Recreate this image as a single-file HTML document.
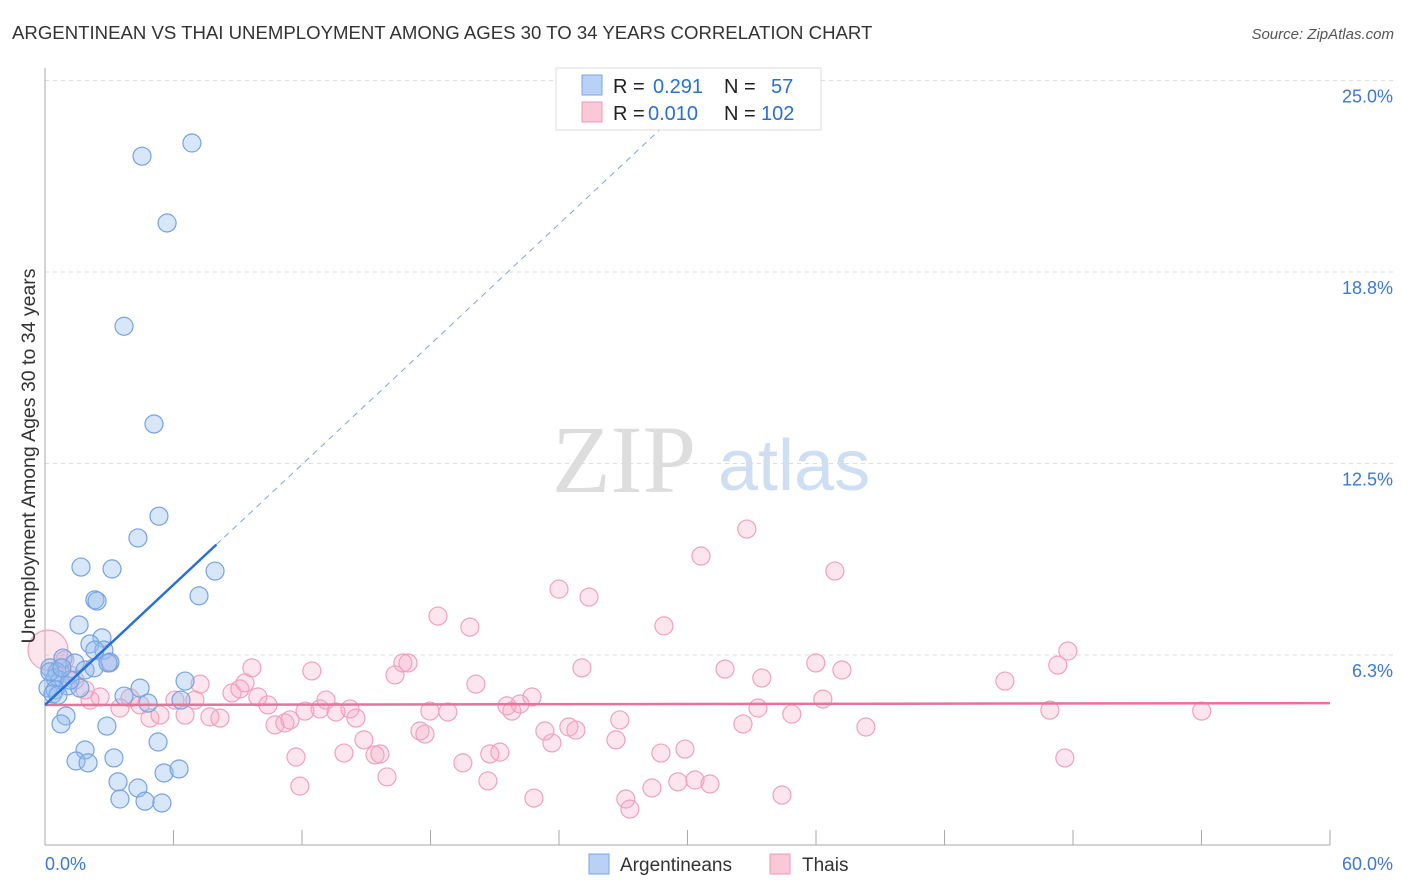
<!DOCTYPE html>
<html><head><meta charset="utf-8"><style>
body{margin:0;background:#fff;width:1406px;height:892px;overflow:hidden;font-family:"Liberation Sans",sans-serif}
svg{position:absolute;left:0;top:0}
</style></head><body>
<svg id="chart" width="1406" height="892" xmlns="http://www.w3.org/2000/svg">
<text x="12" y="39" font-size="18.6" fill="#333">ARGENTINEAN VS THAI UNEMPLOYMENT AMONG AGES 30 TO 34 YEARS CORRELATION CHART</text>
<text x="1394" y="39" font-size="15" fill="#555" font-style="italic" text-anchor="end">Source: ZipAtlas.com</text>
<g>
<text x="552" y="492" font-size="96" fill="#ddd" font-family="Liberation Serif,serif">ZIP</text>
<text x="718" y="490" font-size="72" fill="#cfdff3">atlas</text>
</g>
<g id="grid"></g><g id="axes"></g><g id="marks"></g>
<text x="35" y="456" font-size="19.5" fill="#333" text-anchor="middle" transform="rotate(-90 35 456)">Unemployment Among Ages 30 to 34 years</text>
<g>
<rect x="556" y="68" width="265" height="62" fill="#fff" stroke="#ddd"/>
<rect x="582" y="75" width="20" height="20" fill="#b8d1f5" stroke="#7aa6e6"/>
<rect x="582" y="102" width="20" height="20" fill="#fac8d6" stroke="#ec9ab5"/>
<text font-size="20" fill="#222"><tspan x="613" y="93">R = </tspan><tspan x="653" fill="#2a6fd6">0.291</tspan><tspan x="724">N = </tspan><tspan x="771" fill="#2a6fd6">57</tspan></text>
<text font-size="20" fill="#222"><tspan x="613" y="120">R = </tspan><tspan x="648" fill="#2a6fd6">0.010</tspan><tspan x="724">N = </tspan><tspan x="761" fill="#2a6fd6">102</tspan></text>
</g>
<g>
<rect x="589" y="854" width="20" height="20" fill="#b8d1f5" stroke="#7aa6e6"/>
<text x="620" y="871" font-size="19" fill="#333">Argentineans</text>
<rect x="770" y="854" width="20" height="20" fill="#fac8d6" stroke="#ec9ab5"/>
<text x="802" y="871" font-size="19" fill="#333">Thais</text>
</g>
</svg>
<script>
const yTicks=[6.25,12.5,18.75,25];
const yTickLabels=["6.3%","12.5%","18.8%","25.0%"];
const xTickCount=10;
const xLabels=["0.0%","60.0%"];
const argX=[4.53,6.86,5.70,3.69,5.09,5.32,4.34,1.68,3.13,2.33,2.43,7.19,7.94,1.59,2.66,2.10,2.75,0.84,1.40,3.03,0.23,0.56,0.70,1.07,0.47,0.14,0.47,1.87,2.29,4.44,3.69,6.35,6.54,4.81,0.98,0.75,2.89,5.28,1.87,1.45,2.01,3.22,3.41,4.34,5.56,6.26,3.50,4.67,5.46,0.37,0.61,1.63,1.17,0.23,2.94,2.33,0.79];
const argY=[22.53,22.96,20.35,16.98,13.79,10.78,10.07,9.12,9.06,8.05,8.01,8.18,8.99,7.23,6.81,6.61,6.41,6.15,5.99,6.02,5.83,5.70,5.43,5.24,5.50,5.17,5.11,5.76,5.83,5.17,4.91,4.78,5.40,4.68,4.26,4.00,3.93,3.41,3.15,2.79,2.73,2.89,2.11,1.91,2.40,2.53,1.55,1.48,1.42,4.98,4.94,5.17,5.43,5.70,5.99,6.41,5.83];
const thaiX=[0.14,0.70,1.17,1.87,2.57,3.03,3.97,4.44,4.90,5.37,6.07,6.54,7.00,7.24,7.70,8.17,8.73,9.10,9.34,9.66,9.94,10.41,10.74,11.20,11.44,11.72,11.90,12.14,12.46,12.84,13.12,13.59,13.96,14.24,14.52,14.89,15.41,15.64,15.97,16.34,16.71,16.95,17.51,17.74,17.97,18.35,18.81,19.51,19.84,20.12,20.68,20.77,21.24,21.57,21.80,22.18,22.74,22.83,23.34,23.67,24.00,24.46,24.79,25.07,25.40,26.66,26.84,27.12,27.31,28.34,28.76,28.90,29.55,29.88,30.35,30.63,31.05,31.75,32.59,32.77,33.29,33.47,34.41,34.87,35.99,36.32,36.88,37.21,38.33,44.82,46.92,47.29,47.62,47.76,54.01,2.10,1.40,0.93,3.50];
const thaiY=[6.41,5.83,5.60,5.11,4.88,5.99,4.85,4.62,4.19,4.29,4.78,4.29,4.78,5.30,4.23,4.19,5.01,5.14,5.34,5.83,4.88,4.62,3.97,4.03,4.13,2.92,1.97,4.42,5.73,4.49,4.78,4.39,3.05,4.49,4.19,3.48,2.99,3.02,2.27,5.60,5.99,5.99,3.77,3.67,4.42,7.52,4.39,2.73,7.16,5.30,2.14,3.02,3.08,4.59,4.42,4.65,4.88,1.58,3.77,3.38,8.40,3.90,3.80,5.83,8.14,3.48,4.13,1.55,1.22,1.91,3.05,7.20,2.11,3.18,2.17,9.48,2.04,5.79,4.00,10.36,4.52,5.50,1.68,4.32,5.99,4.81,8.99,5.76,3.90,5.40,4.45,5.92,2.89,6.38,4.42,4.78,5.43,6.09,4.52];
const argTrend=[4.62,0.654];
const thaiTrend=[4.62,0.001];
const X0=45,X1=1330,Y0=846.5,YPER=30.64;
const sx=v=>X0+(X1-X0)*v/60;
const sy=v=>Y0-v*YPER;
const NS="http://www.w3.org/2000/svg";
function mk(tag,parent,attrs){const e=document.createElementNS(NS,tag);for(const k in attrs)e.setAttribute(k,attrs[k]);document.getElementById(parent).appendChild(e);return e;}
yTicks.forEach((t,i)=>{
 const g=mk('line','grid',{x1:X0,x2:1395,y1:sy(t),y2:sy(t),stroke:'#ddd','stroke-dasharray':'4 4'});
 
 
 const l=mk('text','grid',{x:1393,y:sy(t)+22,'font-size':18,fill:'#3b78d8','text-anchor':'end'});
 l.textContent=yTickLabels[i];
 
 
});
const ya=mk('line','axes',{x1:X0,x2:X0,y1:68,y2:845,stroke:'#aaa'});


const xa=mk('line','axes',{x1:X0,x2:X1,y1:845,y2:845,stroke:'#aaa'});


for(let i=0;i<=xTickCount;i++){
 const t=mk('line','axes',{x1:sx(i*6),x2:sx(i*6),y1:830,y2:845,stroke:'#aaa'});
 
 
}
const xl0=mk('text','axes',{x:45,y:870,'font-size':18,fill:'#3b78d8'});xl0.textContent=xLabels[0];


const xl1=mk('text','axes',{x:1393,y:870,'font-size':18,fill:'#3b78d8','text-anchor':'end'});xl1.textContent=xLabels[1];


thaiX.forEach((x,i)=>{
 const c=mk('circle','marks',{cx:sx(x),cy:sy(thaiY[i]),r:i===0?20:9,fill:'rgba(246,170,195,0.3)',stroke:'#f0a2bb','stroke-width':1.2});
 
 
});
argX.forEach((x,i)=>{
 const c=mk('circle','marks',{cx:sx(x),cy:sy(argY[i]),r:9,fill:'rgba(150,190,240,0.38)',stroke:'#76a3e3','stroke-width':1.2});
 
 
});
const tl=mk('line','marks',{x1:sx(0),x2:sx(60),y1:sy(thaiTrend[0]),y2:sy(thaiTrend[0]+thaiTrend[1]*60),stroke:'#e8739a','stroke-width':2.5});


const al=mk('line','marks',{x1:sx(0),x2:sx(8),y1:sy(argTrend[0]),y2:sy(argTrend[0]+argTrend[1]*8),stroke:'#2a6fd6','stroke-width':2.5});


const ad=mk('line','marks',{x1:sx(8),x2:sx(30),y1:sy(argTrend[0]+argTrend[1]*8),y2:sy(argTrend[0]+argTrend[1]*30),stroke:'#7aa6e6','stroke-width':1,'stroke-dasharray':'6 5'});


</script>
</body></html>
